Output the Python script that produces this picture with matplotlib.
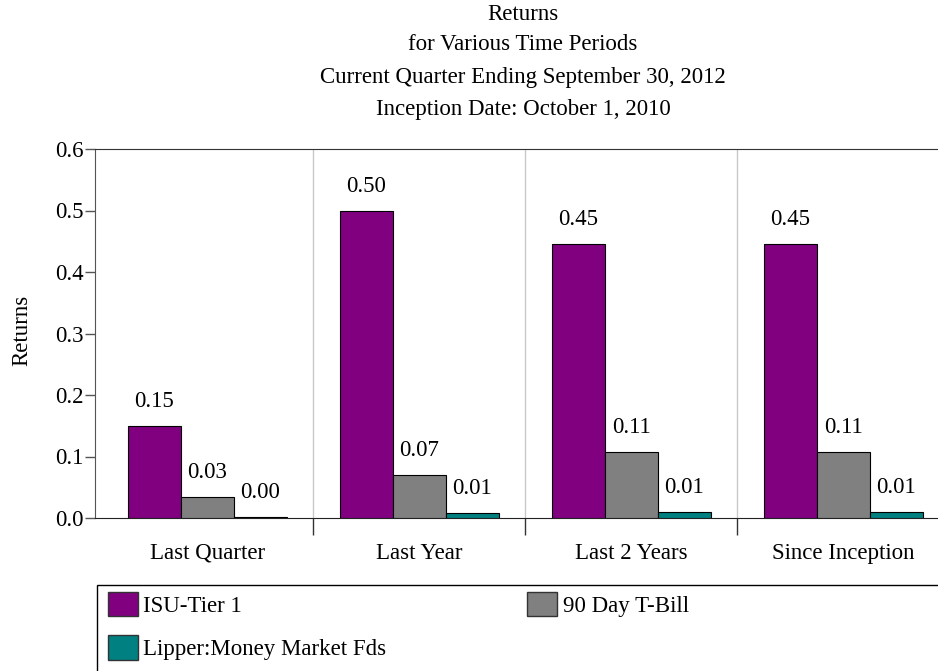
import numpy as np
import matplotlib
matplotlib.use('Agg')
from matplotlib import pyplot as plt
from matplotlib.patches import Rectangle, Patch

plt.rcParams['font.family'] = ['Liberation Serif', 'DejaVu Serif']

categories = ['Last Quarter', 'Last Year', 'Last 2 Years', 'Since Inception']
series_names = ['ISU-Tier 1', '90 Day T-Bill', 'Lipper:Money Market Fds']
isu_tier1 = [0.150, 0.499, 0.445, 0.445]
tbill_90 = [0.034, 0.070, 0.107, 0.107]
lipper_mm = [0.002, 0.008, 0.010, 0.010]
value_labels = [
    ['0.15', '0.50', '0.45', '0.45'],
    ['0.03', '0.07', '0.11', '0.11'],
    ['0.00', '0.01', '0.01', '0.01'],
]
title_lines = ['Returns', 'for Various Time Periods',
               'Current Quarter Ending September 30, 2012',
               'Inception Date: October 1, 2010']
colors = ['#800080', '#808080', '#008080']

FS = 16.5
W, H = 938, 671
fig = plt.figure(figsize=(W / 100, H / 100), dpi=100)
ax = fig.add_axes([95 / W, 1 - 518 / H, 848 / W, (518 - 149) / H])

x = np.arange(len(categories))
width = 0.25
series = [isu_tier1, tbill_90, lipper_mm]
for i, (vals, col, labs) in enumerate(zip(series, colors, value_labels)):
    pos = x + (i - 1) * width
    bars = ax.bar(pos, vals, width, color=col, edgecolor='black', linewidth=0.8, zorder=3)
    for b, lab in zip(bars, labs):
        ax.annotate(lab, (b.get_x() + b.get_width() / 2, b.get_height()),
                    xytext=(0, 10), textcoords='offset points',
                    ha='center', va='bottom', fontsize=FS)

ax.set_xlim(-0.53, 3.47)
ax.set_ylim(0, 0.6)
ax.set_yticks(np.arange(0, 0.61, 0.1))
ax.set_yticklabels(['%.1f' % v for v in np.arange(0, 0.61, 0.1)], fontsize=FS)
ax.set_xticks(x)
ax.set_xticklabels(categories, fontsize=FS)
ax.set_xticks(x[:-1] + 0.5, minor=True)
ax.tick_params(axis='x', which='major', length=0, pad=18)
ax.tick_params(axis='x', which='minor', length=12, width=1, color='#333333')
ax.tick_params(axis='y', length=7, width=1, color='#555555', pad=1)
for b in x[:-1] + 0.5:
    ax.axvline(b, color='#c8c8c8', linewidth=1, zorder=1)

ax.spines['right'].set_visible(False)
ax.spines['left'].set_color('#555555')
ax.spines['top'].set_color('#333333')
ax.spines['bottom'].set_color('#222222')

fig.text(22 / W, 1 - 330 / H, 'Returns', rotation=90, ha='center', va='center', fontsize=FS)

for y, t in zip([14, 45, 77, 109], title_lines):
    fig.text(523 / W, 1 - y / H, t, ha='center', va='center', fontsize=FS)

# legend box (runs off the right and bottom edge)
fig.patches.append(Rectangle((97 / W, -0.05), 0.95, 1 - 585 / H + 0.05,
                             transform=fig.transFigure, facecolor='white',
                             edgecolor='black', linewidth=1))
handles = [Patch(facecolor=c, edgecolor='#333333') for c in colors]
order = [0, 2, 1]
fig.legend([handles[i] for i in order], [series_names[i] for i in order],
           ncol=2, loc='upper left', bbox_to_anchor=(103 / W, 1 - 587 / H),
           frameon=False, fontsize=FS, handlelength=1.31, handleheight=1.27,
           handletextpad=0.25, columnspacing=6.15, labelspacing=0.82,
           borderpad=0.2, borderaxespad=0)

fig.savefig('out.png', dpi=100)
